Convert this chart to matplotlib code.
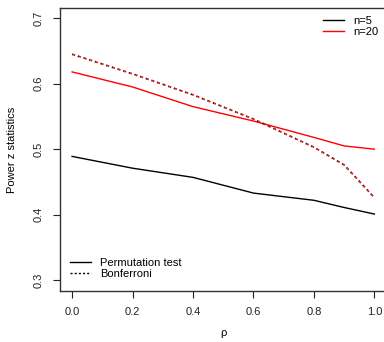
import matplotlib
matplotlib.use("Agg")
import matplotlib.pyplot as plt
from matplotlib.lines import Line2D

plt.rcParams["font.family"] = ["Liberation Sans", "DejaVu Sans"]
plt.rcParams["font.size"] = 8

rho = [0.0, 0.2, 0.4, 0.6, 0.8, 0.9, 1.0]
perm_n5 = [0.489, 0.471, 0.457, 0.433, 0.422, 0.411, 0.401]
perm_n20 = [0.618, 0.595, 0.565, 0.543, 0.518, 0.505, 0.500]
bonf_n20 = [0.645, 0.615, 0.583, 0.546, 0.503, 0.476, 0.426]

fig = plt.figure(figsize=(3.84, 3.42), dpi=100)
ax = fig.add_axes((60 / 384, 51.3 / 342, 326.5 / 384, 283 / 342))

ax.plot(rho, perm_n5, color="black", lw=1)
ax.plot(rho, perm_n20, color="red", lw=1)
# dotted bonferroni line: dark and red dots alternating like the original
ax.plot(rho, bonf_n20, color="#222222", lw=1.3, linestyle=(0, (0.8, 2.5)))
ax.plot(rho, bonf_n20, color="red", lw=1.3, linestyle=(2.5, (1.0, 2.3)))

ax.set_xlim(-0.04, 1.04)
ax.set_ylim(0.284, 0.716)
ax.set_xticks([0.0, 0.2, 0.4, 0.6, 0.8, 1.0])
ax.set_xticklabels(["0.0", "0.2", "0.4", "0.6", "0.8", "1.0"])
ax.set_yticks([0.3, 0.4, 0.5, 0.6, 0.7])
ax.set_yticklabels(["0.3", "0.4", "0.5", "0.6", "0.7"], rotation=90, va="center")
ax.tick_params(axis="both", direction="out", length=5, width=0.8, colors="#222222")
ax.tick_params(axis="x", pad=7)
ax.tick_params(axis="y", pad=7)
for s in ax.spines.values():
    s.set_color("#333333")
    s.set_linewidth(1)

ax.set_xlabel("ρ", labelpad=8)
fig.text(12.5 / 384, 1 - 150 / 342, "Power z statistics", rotation=90,
         ha="center", va="center", fontsize=8)

h_n = [Line2D([], [], color="black", lw=1), Line2D([], [], color="red", lw=1)]
leg1 = ax.legend(h_n, ["n=5", "n=20"], loc="upper left", frameon=False,
                 bbox_to_anchor=(323 / 384, 1 - 15.5 / 342),
                 bbox_transform=fig.transFigure, borderpad=0, borderaxespad=0,
                 handlelength=1.9, handletextpad=0.8, labelspacing=0.1)
ax.add_artist(leg1)

h_t = [Line2D([], [], color="black", lw=1),
       Line2D([], [], color="black", lw=1, linestyle=(0, (1.5, 1.5)))]
ax.legend(h_t, ["Permutation test", "Bonferroni"], loc="upper left", frameon=False,
          bbox_to_anchor=(70 / 384, 1 - 257.8 / 342),
          bbox_transform=fig.transFigure, borderpad=0, borderaxespad=0,
          handlelength=1.9, handletextpad=0.8, labelspacing=0.1)

fig.savefig("out.png", dpi=100)
